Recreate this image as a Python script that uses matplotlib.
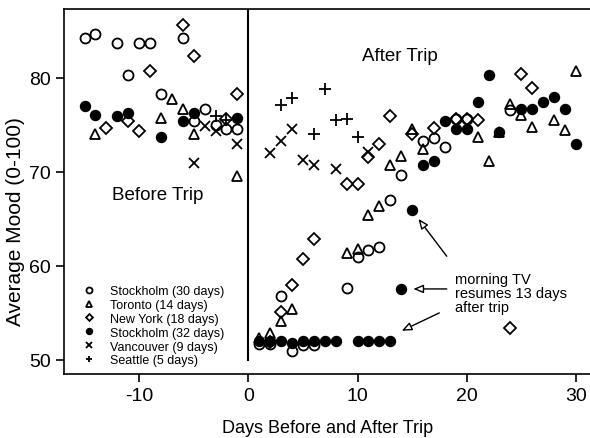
import matplotlib
matplotlib.use("Agg")
import matplotlib.pyplot as plt

plt.rcParams['font.family'] = ['Liberation Sans', 'DejaVu Sans']
plt.rcParams['axes.unicode_minus'] = False

# Stockholm (30 days) - open circles
sto30_x = [-15, -14, -12, -11, -10, -9, -8, -6, -5, -4, -3, -2, -1,
           1, 2, 3, 4, 5, 6, 9, 10, 11, 12, 13, 14, 16, 17, 18, 19, 20, 24]
sto30_y = [84.3, 84.7, 83.7, 80.3, 83.7, 83.7, 78.3, 84.3, 75.4, 76.7, 75.0, 74.6, 74.6,
           51.7, 51.7, 56.8, 51.0, 51.6, 51.6, 57.7, 61.0, 61.7, 62.0, 67.0, 69.7, 73.3, 73.6, 72.7, 75.6, 75.6, 76.6]

# Toronto (14 days) - open triangles
tor_x = [-14, -8, -7, -6, -5, -1,
         1, 2, 3, 4, 9, 10, 11, 12, 13, 14, 15, 16, 21, 22, 23, 24, 25, 26, 28, 29, 30]
tor_y = [74.0, 75.7, 77.8, 76.7, 74.0, 69.6,
         52.3, 52.9, 54.1, 55.4, 61.4, 61.8, 65.4, 66.4, 70.7, 71.7, 74.6, 72.4, 73.7, 71.2, 74.2, 77.2, 76.1, 74.8, 75.5, 74.5, 80.7]

# New York (18 days) - open diamonds
ny_x = [-13, -11, -10, -9, -6, -5, -2, -1,
        2, 3, 4, 5, 6, 9, 10, 11, 12, 13, 15, 17, 19, 20, 21, 24, 25, 26]
ny_y = [74.7, 75.4, 74.4, 80.7, 85.6, 82.3, 75.6, 78.3,
        51.9, 55.1, 58.0, 60.7, 62.9, 68.7, 68.7, 71.6, 73.0, 76.0, 74.0, 74.7, 75.6, 75.6, 75.5, 53.4, 80.4, 78.9]

# Stockholm (32 days) - filled circles
sto32_x = [-15, -14, -12, -11, -8, -6, -5, -1,
           1, 2, 3, 4, 5, 6, 7, 8, 10, 11, 12, 13, 14, 15, 16, 17, 18, 19, 20, 21, 22, 23, 25, 26, 27, 28, 29, 30]
sto32_y = [77.0, 76.1, 75.9, 76.3, 73.7, 75.4, 76.3, 75.7,
           52.0, 52.0, 52.0, 51.8, 52.0, 52.0, 52.0, 52.0, 52.0, 52.0, 52.0, 52.0, 57.5, 66.0, 70.7, 71.2, 75.4, 74.6, 74.6, 77.4, 80.3, 74.2, 76.7, 76.7, 77.4, 78.0, 76.7, 73.0]

# Vancouver (9 days) - crosses
van_x = [-5, -4, -3, -1, 2, 3, 4, 5, 6, 8, 11]
van_y = [71.0, 74.9, 74.4, 73.0, 72.0, 73.3, 74.6, 71.3, 70.7, 70.3, 72.1]

# Seattle (5 days) - plus signs
sea_x = [-3, -2, 3, 4, 6, 7, 8, 9, 10]
sea_y = [75.9, 75.5, 77.1, 77.9, 74.0, 78.8, 75.5, 75.6, 73.7]

fig = plt.figure(figsize=(5.9, 4.39), dpi=100)
ax = fig.add_axes([0.109, 0.146, 0.891, 0.832])

ms = 7.2
ax.plot(sto30_x, sto30_y, 'o', ms=ms, mfc='none', mec='black', mew=1.3, ls='none', label='Stockholm (30 days)')
ax.plot(tor_x, tor_y, '^', ms=ms, mfc='none', mec='black', mew=1.3, ls='none', label='Toronto (14 days)')
ax.plot(ny_x, ny_y, 'D', ms=5.8, mfc='none', mec='black', mew=1.3, ls='none', label='New York (18 days)')
ax.plot(sto32_x, sto32_y, 'o', ms=ms, mfc='black', mec='black', ls='none', label='Stockholm (32 days)')
ax.plot(van_x, van_y, 'x', ms=7, mec='black', mew=1.3, ls='none', label='Vancouver (9 days)')
ax.plot(sea_x, sea_y, '+', ms=8, mec='black', mew=1.3, ls='none', label='Seattle (5 days)')

ax.plot([0, 0], [50, 87.4], color='black', lw=1.5)

ax.set_xlim(-16.85, 31.29)
ax.set_ylim(48.51, 87.37)
ax.set_xticks([-10, 0, 10, 20, 30])
ax.set_yticks([50, 60, 70, 80])
ax.tick_params(labelsize=14, length=6, width=1.2)
ax.spines['right'].set_visible(False)
for s in ['left', 'top', 'bottom']:
    ax.spines[s].set_linewidth(1.2)

ax.set_xlabel('Days Before and After Trip', fontsize=13, labelpad=11)
ax.set_ylabel('Average Mood (0-100)', fontsize=15)
ax.yaxis.set_label_coords(-0.075, 0.419)

ax.text(-8.3, 67.6, 'Before Trip', fontsize=13.5, ha='center', va='center')
ax.text(13.9, 82.4, 'After Trip', fontsize=13.5, ha='center', va='center')

ax.text(18.9, 59.3, 'morning TV\nresumes 13 days\nafter trip', fontsize=10.5,
        ha='left', va='top', linespacing=1.0)
arrow = dict(arrowstyle='-|>,head_length=0.6,head_width=0.25', fc='white', ec='black',
             lw=1, shrinkA=0, shrinkB=0)
ax.annotate('', xy=(15.58, 65.0), xytext=(18.17, 61.03), arrowprops=arrow)
ax.annotate('', xy=(15.11, 57.55), xytext=(18.17, 57.55), arrowprops=arrow)
ax.annotate('', xy=(14.05, 53.1), xytext=(17.49, 55.0), arrowprops=arrow)

ax.legend(loc='lower left', bbox_to_anchor=(0.02, 0.0), frameon=False, fontsize=9,
          markerscale=0.6, handlelength=1.0, handletextpad=1.2, labelspacing=0.15,
          borderaxespad=0.2)

fig.savefig('out.png', dpi=100)
